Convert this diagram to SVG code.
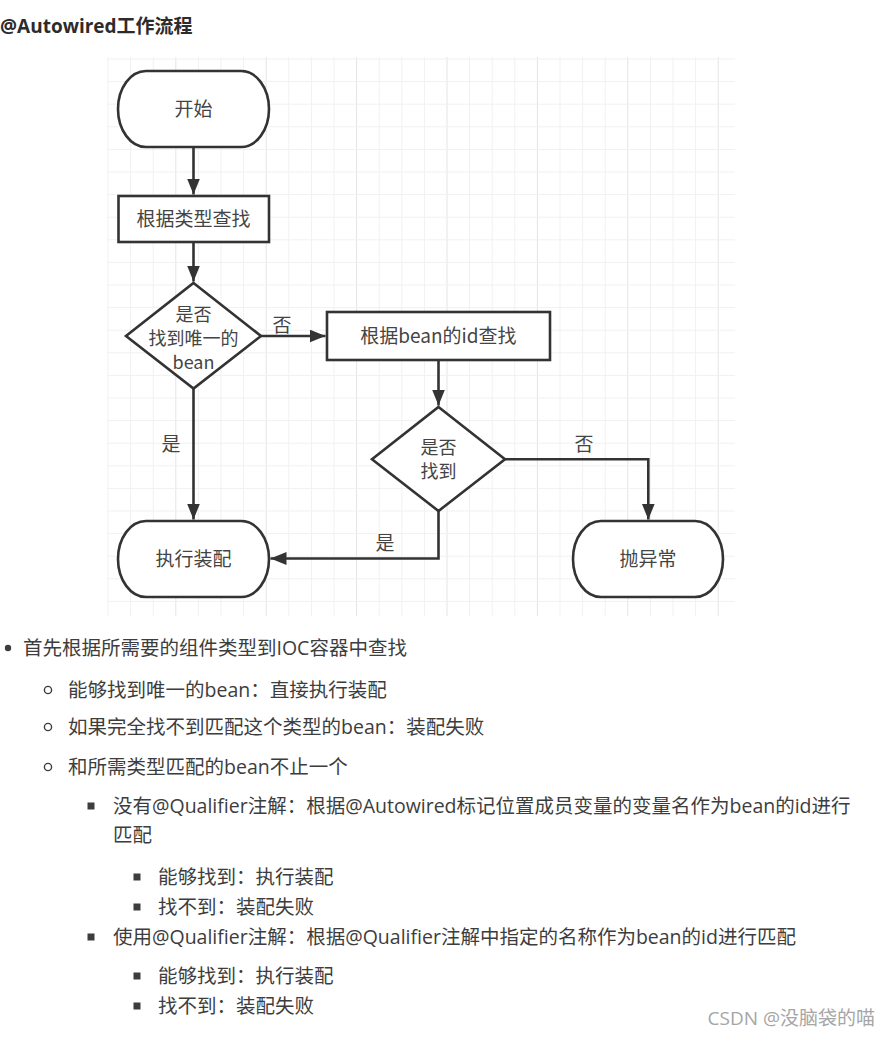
<svg xmlns="http://www.w3.org/2000/svg" width="890" height="1037" viewBox="0 0 890 1037">
<style>
.bg{fill:#ffffff}
.gmin{stroke:#f1f1f1;stroke-width:1;fill:none}
.gmaj{stroke:#e4e4e4;stroke-width:1;fill:none}
.shape{fill:#ffffff;stroke:#333333;stroke-width:2.6}
.conn{fill:none;stroke:#333333;stroke-width:2.6}
.nt{font-family:"Noto Sans CJK SC","Open Sans",sans-serif;font-size:19px;fill:#444444;text-anchor:middle}
.dt{font-family:"Noto Sans CJK SC","Open Sans",sans-serif;font-size:18px;fill:#444444;text-anchor:middle}
.lbl{font-family:"Noto Sans CJK SC","Open Sans",sans-serif;font-size:19px;fill:#444444;text-anchor:middle}
.title{font-family:"Open Sans","Noto Sans CJK SC",sans-serif;font-size:19px;font-weight:bold;fill:#2c2c2c}
.body{font-family:"Open Sans","Noto Sans CJK SC",sans-serif;font-size:19.5px;fill:#3d3d3d}
.wm{font-family:"Open Sans","Noto Sans CJK SC",sans-serif;font-size:19px;fill:#a6a6a6;text-anchor:end}
.dot{fill:#3d3d3d}
.ring{fill:none;stroke:#3d3d3d;stroke-width:1.4}
</style>
<defs>
<marker id="arr" markerUnits="userSpaceOnUse" markerWidth="18" markerHeight="14" refX="16" refY="6.5" orient="auto">
<path d="M0,0 L16,6.5 L0,13 Z" fill="#333333"/>
</marker>
</defs>
<rect class="bg" x="0" y="0" width="890" height="1037"/>

<g id="grid">
<path class="gmin" d="M108,57V616 M130.6,57V616 M153.2,57V616 M198.4,57V616 M221,57V616 M243.6,57V616 M288.8,57V616 M311.4,57V616 M334,57V616 M379.2,57V616 M401.8,57V616 M424.4,57V616 M469.6,57V616 M492.2,57V616 M514.8,57V616 M560,57V616 M582.6,57V616 M605.2,57V616 M650.4,57V616 M673,57V616 M695.6,57V616"/>
<path class="gmaj" d="M175.8,57V616 M266.2,57V616 M356.6,57V616 M447,57V616 M537.4,57V616 M627.8,57V616 M718.2,57V616"/>
<path class="gmin" d="M107,59H735 M107,81.6H735 M107,104.2H735 M107,126.8H735 M107,149.4H735 M107,172H735 M107,194.6H735 M107,217.2H735 M107,239.8H735 M107,262.4H735 M107,285H735 M107,307.6H735 M107,330.2H735 M107,352.8H735 M107,375.4H735 M107,398H735 M107,420.6H735 M107,443.2H735 M107,465.8H735 M107,488.4H735 M107,511H735 M107,533.6H735 M107,556.2H735 M107,578.8H735 M107,601.4H735"/>
</g>

<text class="title" x="0" y="33">@Autowired工作流程</text>

<g id="connectors">
<path class="conn" marker-end="url(#arr)" d="M193.5,147 V194.5"/>
<path class="conn" marker-end="url(#arr)" d="M193.5,242 V281.5"/>
<path class="conn" marker-end="url(#arr)" d="M193.5,388 V519.5"/>
<path class="conn" marker-end="url(#arr)" d="M261,336 H325.5"/>
<path class="conn" marker-end="url(#arr)" d="M438.5,360 V405.5"/>
<path class="conn" marker-end="url(#arr)" d="M438.5,511 V558.5 H270.5"/>
<path class="conn" marker-end="url(#arr)" d="M505,459.3 H648.3 V519.5"/>
<text class="lbl" x="171" y="451">是</text>
<text class="lbl" x="282" y="332">否</text>
<text class="lbl" x="385" y="550">是</text>
<text class="lbl" x="584" y="451">否</text>
</g>

<g id="start">
<path class="shape" d="M146,71 H241 A28 38 0 0 1 241,147 H146 A28 38 0 0 1 146,71 Z"/>
<text class="nt" x="193.5" y="116">开始</text>
</g>

<g id="find-by-type">
<rect class="shape" x="118.5" y="196" width="150.5" height="46"/>
<text class="nt" x="193.5" y="226">根据类型查找</text>
</g>

<g id="unique-check">
<path class="shape" d="M193.5,283 L261,336 L193.5,388.5 L126,336 Z"/>
<text class="dt" x="193.5" y="321">是否</text>
<text class="dt" x="193.5" y="345">找到唯一的</text>
<text class="dt" x="193.5" y="369">bean</text>
</g>

<g id="find-by-id">
<rect class="shape" x="327" y="312" width="223" height="48"/>
<text class="nt" x="438.5" y="343">根据bean的id查找</text>
</g>

<g id="found-check">
<path class="shape" d="M438.5,407 L505,459.3 L438.5,511 L372,459.3 Z"/>
<text class="dt" x="438.5" y="454">是否</text>
<text class="dt" x="438.5" y="478">找到</text>
</g>

<g id="do-wire">
<path class="shape" d="M146,521 H241 A28 38 0 0 1 241,597 H146 A28 38 0 0 1 146,521 Z"/>
<text class="nt" x="193.5" y="566">执行装配</text>
</g>

<g id="throw">
<path class="shape" d="M601,521 H695 A28 38 0 0 1 695,597 H601 A28 38 0 0 1 601,521 Z"/>
<text class="nt" x="648" y="566">抛异常</text>
</g>

<g id="notes">
<circle class="dot" cx="8" cy="648" r="3.2"/>
<text class="body" x="23" y="655">首先根据所需要的组件类型到IOC容器中查找</text>
<circle class="ring" cx="48" cy="690" r="3.6"/>
<text class="body" x="68" y="697">能够找到唯一的bean：直接执行装配</text>
<circle class="ring" cx="48" cy="727" r="3.6"/>
<text class="body" x="68" y="734">如果完全找不到匹配这个类型的bean：装配失败</text>
<circle class="ring" cx="48" cy="767" r="3.6"/>
<text class="body" x="68" y="774">和所需类型匹配的bean不止一个</text>
<rect class="dot" x="87.5" y="802.5" width="7" height="7"/>
<text class="body" x="113" y="813">没有@Qualifier注解：根据@Autowired标记位置成员变量的变量名作为bean的id进行</text>
<text class="body" x="113" y="842">匹配</text>
<rect class="dot" x="133.5" y="873.5" width="7" height="7"/>
<text class="body" x="158" y="884">能够找到：执行装配</text>
<rect class="dot" x="133.5" y="903.5" width="7" height="7"/>
<text class="body" x="158" y="914">找不到：装配失败</text>
<rect class="dot" x="87.5" y="933.5" width="7" height="7"/>
<text class="body" x="113" y="944">使用@Qualifier注解：根据@Qualifier注解中指定的名称作为bean的id进行匹配</text>
<rect class="dot" x="133.5" y="972.5" width="7" height="7"/>
<text class="body" x="158" y="983">能够找到：执行装配</text>
<rect class="dot" x="133.5" y="1002.5" width="7" height="7"/>
<text class="body" x="158" y="1013">找不到：装配失败</text>
<text class="wm" x="875" y="1025">CSDN @没脑袋的喵</text>
</g>
</svg>
